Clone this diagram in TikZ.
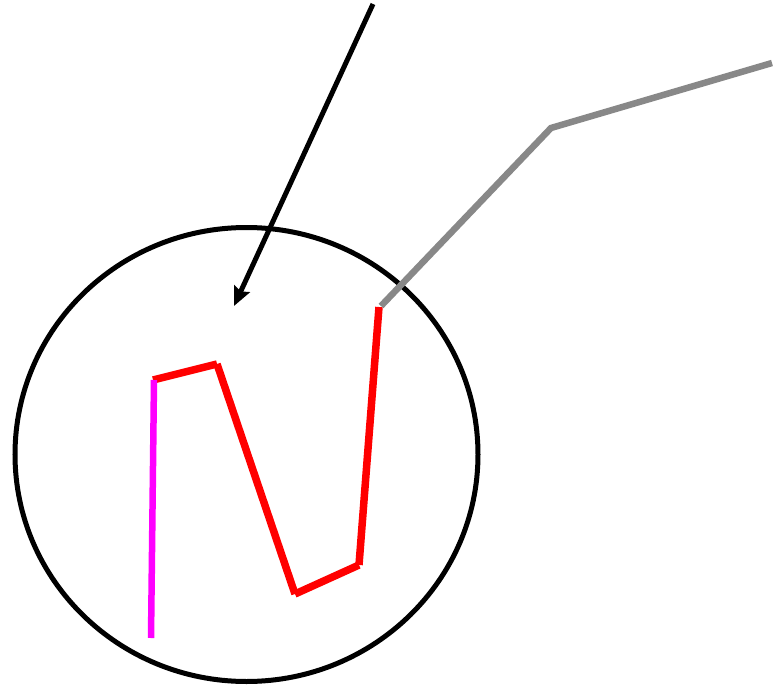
\documentclass[tikz,border=0pt]{standalone}
\usepackage{tikz}
\usetikzlibrary{arrows.meta}
\definecolor{WireGray}{RGB}{136,136,136}
\definecolor{LoopRed}{RGB}{255,0,0}
\definecolor{LeadMagenta}{RGB}{255,0,255}

\begin{document}
\begin{tikzpicture}[
    x=1pt, y=-1pt,
    ring/.style={draw=black, line width=5pt},
    pointer/.style={-{Stealth[length=19pt,width=17pt,inset=3pt]}, line width=5pt, black},
    loopseg/.style={LoopRed, line width=7.5pt},
    lead/.style={LeadMagenta, line width=6.5pt},
    wire/.style={WireGray, line width=6.5pt}
  ]
    \useasboundingbox (0,0) rectangle (780,685);

    \coordinate (center) at (246.5,454.5);
    \draw[ring] (center) ellipse [x radius=231.5, y radius=227];

    % pointer from above
    \coordinate (ptail) at (373,4);
    \coordinate (phead) at (234,306);
    \draw[pointer] (ptail) -- (phead);

    % red zigzag
    \coordinate (r1) at (153,380);
    \coordinate (r2) at (217,364);
    \coordinate (r3) at (295,594);
    \coordinate (r4) at (359,565);
    \coordinate (r5) at (379,307);
    \draw[loopseg] (r1) -- (r2);
    \draw[loopseg] (r2) -- (r3);
    \draw[loopseg] (r3) -- (r4);
    \draw[loopseg] (r4) -- (r5);

    % magenta lead
    \coordinate (m1) at (151,638);
    \draw[lead] (m1) -- (154,380);

    % grey wire
    \coordinate (g2) at (551,128);
    \coordinate (g3) at (772,63);
    \draw[wire] (381,306) -- (g2) -- (g3);
  \end{tikzpicture}
\end{document}
